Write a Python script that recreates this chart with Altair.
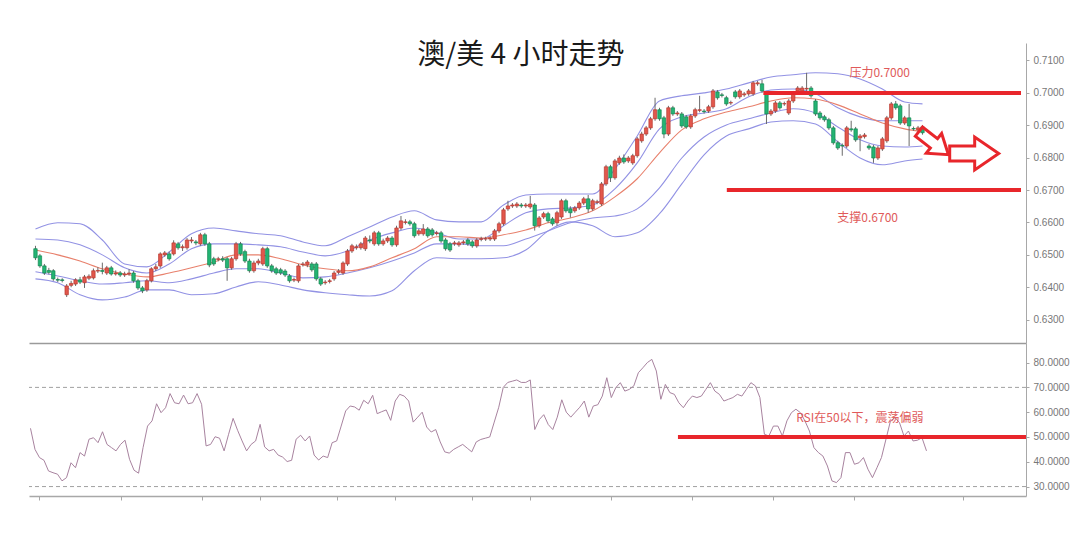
import altair as alt
import pandas as pd
import numpy as np

# ---------------- candles (price x 10000) ----------------
OPEN = [6519, 6497, 6466, 6452, 6451, 6424, 6423, 6377, 6406, 6410,
        6423, 6414, 6428, 6429, 6450, 6452, 6444, 6460, 6441, 6444,
        6438, 6441, 6444, 6420, 6398, 6392, 6420, 6457, 6466, 6500,
        6503, 6503, 6534, 6522, 6522, 6543, 6540, 6534, 6562, 6534,
        6488, 6486, 6488, 6488, 6460, 6488, 6534, 6510, 6481, 6451,
        6475, 6472, 6519, 6466, 6457, 6454, 6450, 6435, 6422, 6420,
        6470, 6469, 6472, 6472, 6426, 6414, 6418, 6426, 6446, 6444,
        6472, 6512, 6522, 6522, 6519, 6546, 6534, 6568, 6534, 6543,
        6552, 6531, 6583, 6600, 6602, 6596, 6565, 6565, 6580, 6577,
        6566, 6568, 6546, 6534, 6534, 6531, 6537, 6546, 6540, 6528,
        6548, 6549, 6549, 6549, 6574, 6596, 6642, 6651, 6651, 6654,
        6651, 6648, 6654, 6590, 6617, 6627, 6611, 6599, 6617, 6667,
        6642, 6636, 6645, 6660, 6673, 6642, 6662, 6657, 6719, 6772,
        6738, 6784, 6799, 6790, 6784, 6806, 6852, 6873, 6892, 6920,
        6948, 6923, 6873, 6954, 6935, 6935, 6926, 6895, 6929, 6946,
        6944, 6944, 6957, 7003, 6994, 6985, 6969, 7003, 6988, 6994,
        6997, 6997, 7028, 7028, 7000, 6935, 6944, 6969, 6966, 6938,
        6975, 7006, 7006, 7012, 7015, 6975, 6938, 6926, 6917, 6892,
        6846, 6838, 6836, 6889, 6889, 6861, 6865, 6836, 6833, 6799,
        6827, 6852, 6923, 6966, 6960, 6907, 6923, 6890, 6886, 6895]
CLOSE = [6491, 6466, 6444, 6446, 6426, 6422, 6421, 6404, 6412, 6423,
         6416, 6432, 6434, 6451, 6452, 6449, 6460, 6441, 6444, 6438,
         6441, 6444, 6420, 6398, 6389, 6420, 6457, 6463, 6503, 6506,
         6488, 6537, 6522, 6525, 6546, 6546, 6537, 6562, 6534, 6469,
         6472, 6488, 6484, 6460, 6488, 6534, 6503, 6481, 6451, 6475,
         6481, 6519, 6466, 6451, 6444, 6444, 6438, 6420, 6424, 6466,
         6472, 6478, 6454, 6426, 6410, 6416, 6420, 6444, 6450, 6475,
         6512, 6528, 6525, 6534, 6552, 6543, 6568, 6534, 6543, 6552,
         6531, 6583, 6605, 6602, 6596, 6559, 6574, 6580, 6559, 6562,
         6568, 6543, 6519, 6515, 6537, 6537, 6540, 6534, 6528, 6546,
         6550, 6550, 6552, 6574, 6596, 6639, 6651, 6654, 6657, 6651,
         6654, 6657, 6590, 6614, 6627, 6605, 6596, 6630, 6667, 6636,
         6630, 6645, 6660, 6673, 6642, 6667, 6664, 6719, 6772, 6738,
         6790, 6799, 6787, 6799, 6806, 6858, 6873, 6892, 6920, 6948,
         6920, 6873, 6954, 6935, 6938, 6898, 6895, 6929, 6948, 6948,
         6942, 6957, 7006, 6985, 6992, 6966, 6970, 6988, 7006, 6997,
         7006, 7031, 7031, 7006, 6935, 6944, 6969, 6954, 6967, 6975,
         7000, 7015, 7015, 7014, 6991, 6935, 6923, 6917, 6892, 6846,
         6830, 6836, 6892, 6886, 6855, 6867, 6870, 6830, 6799, 6830,
         6858, 6923, 6966, 6954, 6907, 6923, 6898, 6889, 6892, 6877]
HIGH = [6528, 6503, 6472, 6460, 6456, 6430, 6428, 6410, 6420, 6428,
        6432, 6438, 6440, 6458, 6462, 6476, 6466, 6466, 6452, 6450,
        6448, 6456, 6450, 6426, 6404, 6426, 6462, 6472, 6508, 6512,
        6510, 6545, 6540, 6532, 6552, 6555, 6546, 6568, 6568, 6540,
        6494, 6494, 6496, 6494, 6494, 6540, 6540, 6516, 6488, 6482,
        6488, 6525, 6525, 6472, 6463, 6460, 6456, 6441, 6430, 6472,
        6478, 6484, 6478, 6478, 6432, 6422, 6426, 6450, 6456, 6480,
        6518, 6534, 6532, 6540, 6558, 6560, 6574, 6574, 6550, 6558,
        6558, 6590, 6620, 6610, 6608, 6602, 6580, 6595, 6586, 6583,
        6574, 6574, 6552, 6540, 6543, 6543, 6546, 6552, 6546, 6552,
        6556, 6556, 6558, 6580, 6602, 6645, 6667, 6660, 6663, 6660,
        6660, 6682, 6660, 6620, 6633, 6633, 6617, 6636, 6673, 6673,
        6650, 6651, 6666, 6679, 6685, 6673, 6670, 6725, 6778, 6778,
        6796, 6806, 6810, 6805, 6812, 6864, 6880, 6898, 6926, 6985,
        6954, 6929, 6960, 6960, 6944, 6941, 6932, 6935, 6954, 6991,
        6950, 6963, 7012, 7009, 7000, 6991, 6976, 7009, 7012, 7003,
        7012, 7037, 7037, 7040, 7006, 6950, 6975, 6975, 6973, 6981,
        7006, 7021, 7021, 7062, 7021, 6981, 6944, 6932, 6923, 6898,
        6852, 6844, 6898, 6914, 6895, 6873, 6876, 6842, 6839, 6836,
        6864, 6929, 6972, 6975, 6966, 6929, 6966, 6896, 6898, 6901]
LOW = [6484, 6460, 6438, 6440, 6420, 6416, 6415, 6370, 6400, 6404,
       6410, 6398, 6422, 6424, 6444, 6440, 6438, 6436, 6436, 6432,
       6432, 6436, 6414, 6392, 6382, 6386, 6415, 6450, 6460, 6494,
       6482, 6498, 6516, 6512, 6516, 6536, 6530, 6528, 6528, 6462,
       6466, 6480, 6478, 6420, 6454, 6482, 6497, 6475, 6445, 6445,
       6468, 6466, 6460, 6445, 6438, 6438, 6432, 6414, 6416, 6414,
       6464, 6462, 6448, 6420, 6404, 6408, 6412, 6420, 6440, 6438,
       6466, 6506, 6516, 6516, 6512, 6536, 6528, 6528, 6528, 6537,
       6525, 6525, 6577, 6594, 6590, 6553, 6559, 6559, 6553, 6556,
       6560, 6537, 6513, 6509, 6528, 6525, 6531, 6528, 6522, 6522,
       6542, 6543, 6543, 6543, 6568, 6590, 6636, 6645, 6645, 6645,
       6645, 6642, 6575, 6584, 6611, 6599, 6590, 6590, 6611, 6630,
       6615, 6630, 6639, 6654, 6630, 6636, 6656, 6651, 6713, 6725,
       6732, 6778, 6781, 6784, 6778, 6800, 6846, 6867, 6886, 6914,
       6914, 6860, 6867, 6929, 6929, 6892, 6889, 6889, 6923, 6940,
       6936, 6938, 6951, 6979, 6986, 6960, 6963, 6982, 6982, 6988,
       6991, 6991, 7022, 7000, 6904, 6929, 6938, 6948, 6960, 6932,
       6969, 7000, 7000, 7006, 6985, 6929, 6917, 6911, 6886, 6840,
       6824, 6806, 6830, 6880, 6849, 6820, 6859, 6824, 6784, 6793,
       6821, 6846, 6917, 6948, 6901, 6901, 6836, 6883, 6880, 6871]

# ---------------- bands (read at every 5th candle, price x 10000) ----------------
BAND_T = [0, 5, 10, 15, 20, 25, 30, 35, 40, 45, 50, 55, 60, 65, 70, 75, 80, 85, 90, 95,
          100, 105, 110, 115, 120, 125, 130, 135, 140, 145, 150, 155, 160, 165, 170, 175,
          180, 185, 190, 195, 199]
UPPER_OUTER = [6580, 6599, 6596, 6546, 6472, 6463, 6509, 6565, 6583, 6574, 6565, 6559, 6540,
               6528, 6556, 6586, 6617, 6636, 6608, 6602, 6602, 6654, 6685, 6688, 6688, 6688,
               6765, 6867, 6975, 6991, 7000, 7012, 7031, 7049, 7056, 7062, 7059, 7043, 7012,
               6972, 6966]
UPPER_INNER = [6549, 6546, 6531, 6500, 6460, 6444, 6472, 6519, 6534, 6534, 6531, 6525, 6509,
               6497, 6512, 6546, 6568, 6583, 6568, 6549, 6549, 6590, 6630, 6642, 6645, 6654,
               6704, 6784, 6889, 6926, 6938, 6951, 6988, 7009, 7012, 6997, 6954, 6926, 6914,
               6914, 6914]
MIDDLE = [6515, 6500, 6481, 6457, 6441, 6432, 6444, 6460, 6478, 6500, 6500, 6488, 6469,
          6457, 6451, 6463, 6491, 6519, 6556, 6556, 6552, 6562, 6577, 6599, 6614, 6636,
          6679, 6735, 6815, 6886, 6920, 6941, 6957, 6975, 6985, 6981, 6963, 6935, 6907,
          6889, 6880]
LOWER_INNER = [6448, 6435, 6420, 6410, 6414, 6420, 6414, 6426, 6444, 6457, 6457, 6444, 6429,
               6432, 6444, 6460, 6481, 6506, 6534, 6534, 6528, 6528, 6549, 6574, 6599, 6614,
               6620, 6642, 6707, 6799, 6864, 6901, 6920, 6938, 6951, 6938, 6895, 6855, 6836,
               6833, 6836]
LOWER_OUTER = [6426, 6414, 6377, 6361, 6370, 6392, 6392, 6377, 6380, 6401, 6417, 6407, 6392,
               6383, 6377, 6373, 6389, 6451, 6491, 6488, 6488, 6491, 6515, 6574, 6602, 6590,
               6556, 6568, 6627, 6719, 6809, 6867, 6889, 6910, 6914, 6904, 6849, 6799, 6778,
               6790, 6796]

# ---------------- RSI (one value per candle) ----------------
RSI = [53.5, 45.0, 41.7, 40.6, 36.3, 35.6, 35.0, 32.3, 33.6, 39.6,
       37.6, 43.7, 42.3, 49.1, 49.7, 47.7, 52.1, 47.0, 45.7, 44.4,
       47.0, 48.7, 41.0, 36.6, 35.4, 45.7, 54.4, 56.5, 63.4, 59.8,
       61.8, 67.5, 63.8, 63.4, 66.9, 63.4, 63.8, 67.5, 63.2, 46.4,
       47.0, 50.1, 49.5, 44.4, 51.1, 57.5, 52.7, 48.4, 44.4, 47.0,
       48.4, 55.1, 46.0, 44.4, 45.0, 42.7, 41.9, 40.1, 40.6, 49.1,
       50.7, 48.4, 50.4, 42.7, 40.7, 42.3, 41.7, 47.7, 48.4, 54.4,
       60.5, 62.5, 62.1, 60.8, 64.8, 63.4, 66.8, 59.4, 60.2, 60.9,
       56.7, 64.5, 67.2,
       66.5, 64.5, 56.0, 58.0, 60.0, 54.0, 52.0, 53.0, 48.0, 44.0,
       43.5, 45.0, 46.0, 47.0, 45.5, 44.0, 48.0, 49.0, 49.5, 50.0,
       56.0, 62.0, 70.0, 72.0, 72.5, 73.0, 72.0, 72.0, 73.0, 53.0,
       57.0, 59.0, 55.0, 53.0, 58.0, 65.0, 60.0, 58.0, 60.0, 62.0,
       64.5, 58.0, 62.5, 63.0,
       66.5, 73.9, 65.9, 69.9, 71.9, 68.5, 69.2, 70.6, 75.9, 77.9,
       80.0, 81.3, 76.6, 65.2, 71.2, 67.9, 67.2, 63.8, 61.8, 64.5,
       66.5, 65.9, 66.5, 69.2, 71.9, 68.5, 67.2, 64.5, 65.2, 65.9,
       67.2, 66.5, 69.2, 71.9, 70.6, 65.9, 51.1, 50.4, 54.4, 54.4,
       50.4, 56.5, 59.8, 61.2, 59.8, 56.5, 52.4, 45.7, 43.7, 42.3,
       38.3, 32.3, 31.6, 33.6, 43.7, 43.7, 39.0, 39.6, 41.7, 37.0,
       33.6, 37.6, 41.7, 49.1, 56.5, 57.8, 55.8, 50.4, 52.4, 48.4,
       48.7, 49.7, 44.4]

# ---------------- axes / annotations ----------------
PRICE_TICKS = [0.63, 0.64, 0.65, 0.66, 0.67, 0.68, 0.69, 0.70, 0.71]
RSI_TICKS = [30, 40, 50, 60, 70, 80]
RSI_GUIDES = [70, 30]
X_TICKS = [2, 20, 38, 51, 68, 81, 98, 111, 129, 147, 165, 183, 207]

LEVEL_START = [163.3, 155.1]
LEVEL_END = [221.1, 221.1]
LEVEL_PRICE = [0.7000, 0.6700]
LEVEL_TEXT = ["压力0.7000", "支撑0.6700"]
LEVEL_TEXT_T = [189.4, 186.7]
LEVEL_TEXT_P = [0.7062, 0.6614]

RSI_LEVEL_START = [143.8]
RSI_LEVEL_END = [221.1]
RSI_LEVEL = [50]
RSI_TEXT = ["RSI在50以下，震荡偏弱"]
RSI_TEXT_T = [184.2]
RSI_TEXT_V = [57.7]

TITLE = ["澳/美 4 小时走势"]
TITLE_T = [108.9]
TITLE_P = [0.7113]

ARROW1_T, ARROW1_P = [201.5], [0.6845]
ARROW2_T, ARROW2_P = [210.6], [0.6813]

ARROW_PATH = "M -1 -0.31 L 0.02 -0.31 L 0.02 -0.67 L 1 0 L 0.02 0.67 L 0.02 0.31 L -1 0.31 Z"

RED = "#e8262b"
TXT_RED = "#e05a5a"
BLUE = "#9292e4"
MA_RED = "#e8806c"
CJK = "Noto Sans CJK SC"

# ---------------- data frames ----------------
candles = pd.DataFrame({
    "t": np.arange(len(OPEN)),
    "open": np.array(OPEN) / 1e4,
    "close": np.array(CLOSE) / 1e4,
    "high": np.array(HIGH) / 1e4,
    "low": np.array(LOW) / 1e4,
})

blue_bands = pd.concat([
    pd.DataFrame({"t": BAND_T, "v": np.array(vals) / 1e4, "s": name})
    for name, vals in zip(["uo", "ui", "li", "lo"], [UPPER_OUTER, UPPER_INNER, LOWER_INNER, LOWER_OUTER])
])
mid_band = pd.DataFrame({"t": BAND_T, "v": np.array(MIDDLE) / 1e4})

levels = pd.DataFrame({"x1": LEVEL_START, "x2": LEVEL_END, "p": LEVEL_PRICE})
level_text = pd.DataFrame({"t": LEVEL_TEXT_T, "p": LEVEL_TEXT_P, "label": LEVEL_TEXT})
title_df = pd.DataFrame({"t": TITLE_T, "p": TITLE_P, "label": TITLE})
arrow1 = pd.DataFrame({"t": ARROW1_T, "p": ARROW1_P})
arrow2 = pd.DataFrame({"t": ARROW2_T, "p": ARROW2_P})

rsi_df = pd.DataFrame({"t": np.arange(len(RSI)), "rsi": RSI})
rsi_guides = pd.DataFrame({"lvl": RSI_GUIDES})
rsi_level = pd.DataFrame({"x1": RSI_LEVEL_START, "x2": RSI_LEVEL_END, "p": RSI_LEVEL})
rsi_text = pd.DataFrame({"t": RSI_TEXT_T, "p": RSI_TEXT_V, "label": RSI_TEXT})

# ---------------- scales / axes ----------------
x_scale = alt.Scale(domain=[-0.33, 221.1], nice=False, zero=False)
p_scale = alt.Scale(domain=[0.6228, 0.7154], nice=False, zero=False)
r_scale = alt.Scale(domain=[26.2, 87.9], nice=False, zero=False)

px_axis = alt.Axis(labels=False, ticks=False, grid=False, domain=True,
                   domainColor="#9a9a9a", domainWidth=1.3, title=None)
rx_axis = alt.Axis(values=X_TICKS, labels=False, ticks=True, tickSize=4, grid=False,
                   domainColor="#a8a8a8", tickColor="#a8a8a8", domainWidth=1.3, title=None)
py_axis = alt.Axis(orient="right", values=PRICE_TICKS, format=".4f", grid=False, title=None,
                   tickSize=3, labelPadding=4)
ry_axis = alt.Axis(orient="right", values=RSI_TICKS, format=".4f", grid=False, title=None,
                   tickSize=3, labelPadding=4)


def PX(f):
    return alt.X(f, scale=x_scale, axis=px_axis)


def PY(f):
    return alt.Y(f, scale=p_scale, axis=py_axis)


def RX(f):
    return alt.X(f, scale=x_scale, axis=rx_axis)


def RY(f):
    return alt.Y(f, scale=r_scale, axis=ry_axis)


UP = "datum.close >= datum.open"

# ---------------- price panel ----------------
blue_layer = alt.Chart(blue_bands).mark_line(strokeWidth=1.1, interpolate="monotone", color=BLUE,
                                             clip=True).encode(
    x=PX("t:Q"), y=PY("v:Q"), detail="s:N")
mid_layer = alt.Chart(mid_band).mark_line(strokeWidth=1.1, interpolate="monotone", color=MA_RED,
                                          clip=True).encode(
    x=PX("t:Q"), y=PY("v:Q"))
wick_layer = alt.Chart(candles).mark_rule(color="#6a6a6a", strokeWidth=1).encode(
    x=PX("t:Q"), y=PY("low:Q"), y2="high:Q")
body_layer = alt.Chart(candles).mark_bar(size=3.4, strokeWidth=0.7).encode(
    x=PX("t:Q"), y=PY("open:Q"), y2="close:Q",
    color=alt.condition(UP, alt.value("#e2574c"), alt.value("#23b474")),
    stroke=alt.condition(UP, alt.value("#b8392f"), alt.value("#148750")),
)
level_layer = alt.Chart(levels).mark_rule(color=RED, strokeWidth=4).encode(
    x=PX("x1:Q"), x2="x2:Q", y=PY("p:Q"))
level_text_layer = alt.Chart(level_text).mark_text(font=CJK, fontSize=12, color=TXT_RED).encode(
    x=PX("t:Q"), y=PY("p:Q"), text="label:N")
title_layer = alt.Chart(title_df).mark_text(font=CJK, fontSize=28, color="#1a1a1a").encode(
    x=PX("t:Q"), y=PY("p:Q"), text="label:N")
arrow1_layer = alt.Chart(arrow1).mark_point(shape=ARROW_PATH, filled=False, stroke=RED, strokeWidth=3,
                                            size=1400, angle=38, opacity=1).encode(
    x=PX("t:Q"), y=PY("p:Q"))
arrow2_layer = alt.Chart(arrow2).mark_point(shape=ARROW_PATH, filled=False, stroke=RED, strokeWidth=3,
                                            size=2400, opacity=1).encode(
    x=PX("t:Q"), y=PY("p:Q"))

price = alt.layer(blue_layer, mid_layer, wick_layer, body_layer, level_layer, level_text_layer,
                  title_layer, arrow1_layer, arrow2_layer).properties(width=997, height=300)

# ---------------- RSI panel ----------------
rsi_line = alt.Chart(rsi_df).mark_line(color="#a8839f", strokeWidth=1).encode(
    x=RX("t:Q"), y=RY("rsi:Q"))
rsi_guide_layer = alt.Chart(rsi_guides).mark_rule(color="#a0a0a0", strokeDash=[4, 3], strokeWidth=1).encode(
    y=RY("lvl:Q"))
rsi_level_layer = alt.Chart(rsi_level).mark_rule(color=RED, strokeWidth=4).encode(
    x=RX("x1:Q"), x2="x2:Q", y=RY("p:Q"))
rsi_text_layer = alt.Chart(rsi_text).mark_text(font=CJK, fontSize=12, color=TXT_RED).encode(
    x=RX("t:Q"), y=RY("p:Q"), text="label:N")

rsi = alt.layer(rsi_guide_layer, rsi_line, rsi_level_layer, rsi_text_layer).properties(width=997, height=153)

chart = alt.vconcat(price, rsi, spacing=0).properties(
    padding={"left": 20, "top": 34, "right": 0, "bottom": 0},
    background="white",
).configure_view(stroke=None).configure_axis(
    labelFont="Liberation Sans", labelFontSize=10, labelColor="#777777",
    domainColor="#a8a8a8", tickColor="#a8a8a8",
)

chart.save("out.html", embed_options={"renderer": "svg", "actions": False})
